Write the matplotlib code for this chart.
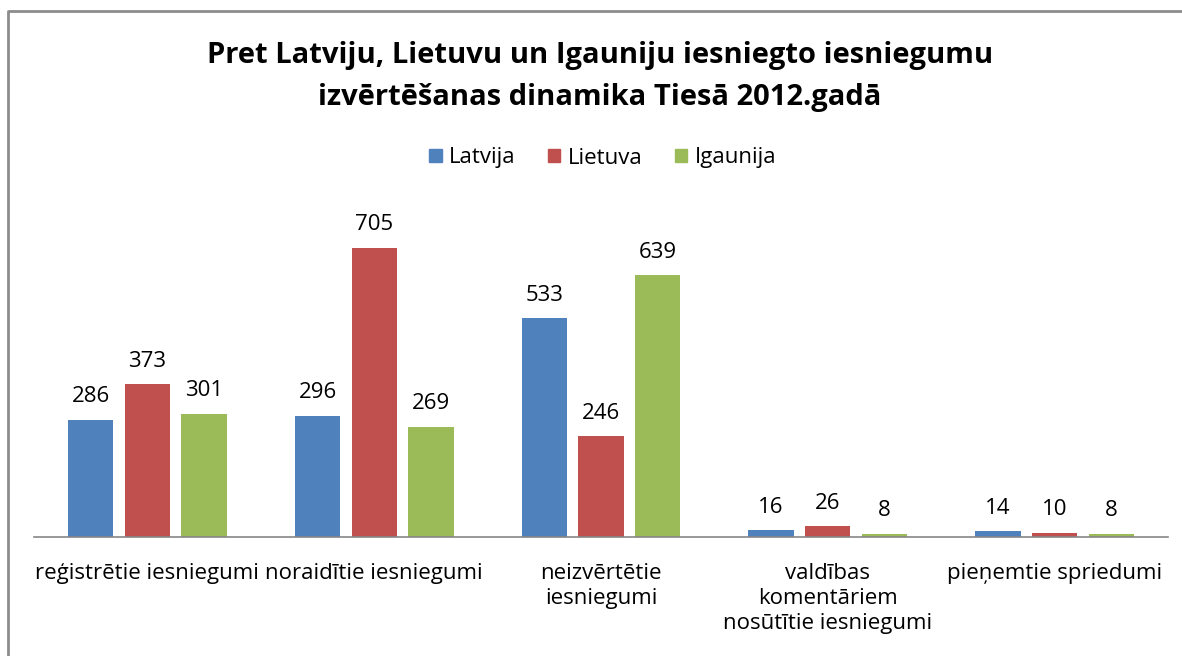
import matplotlib
matplotlib.use("Agg")
import matplotlib.pyplot as plt
from matplotlib.lines import Line2D
import numpy as np

categories = ["reģistrētie iesniegumi", "noraidītie iesniegumi", "neizvērtētie\niesniegumi",
              "valdības\nkomentāriem\nnosūtītie iesniegumi", "pieņemtie spriedumi"]
series_names = ["Latvija", "Lietuva", "Igaunija"]
latvija = [286, 296, 533, 16, 14]
lietuva = [373, 705, 246, 26, 10]
igaunija = [301, 269, 639, 8, 8]
colors = ["#4F81BD", "#C0504D", "#9BBB59"]

plt.rcParams['font.family'] = ['Open Sans', 'DejaVu Sans']

W, H = 1182, 656
fig = plt.figure(figsize=(W / 100, H / 100), dpi=100)
ax = fig.add_axes([34 / W, (H - 537) / H, 1134 / W, 328 / H])

x = np.arange(len(categories))
width = 0.2
step = 0.25
for i, (vals, name, c) in enumerate(zip([latvija, lietuva, igaunija], series_names, colors)):
    bars = ax.bar(x + (i - 1) * step, vals, width, color=c, label=name, zorder=2)
    ax.bar_label(bars, padding=9, fontsize=16, color="#000000")

ax.set_xlim(-0.5, len(categories) - 0.5)
ax.set_ylim(0, 800)
ax.set_yticks([])
ax.set_xticks(x)
ax.set_xticklabels(categories, fontsize=16, linespacing=1.25)
ax.tick_params(axis='x', length=0, pad=19)
for s in ["top", "right", "left"]:
    ax.spines[s].set_visible(False)
ax.spines["bottom"].set_color("#868686")
ax.spines["bottom"].set_linewidth(1.2)

fig.text(600 / W, 1 - 55 / H, "Pret Latviju, Lietuvu un Igauniju iesniegto iesniegumu", ha="center",
         va="center", fontsize=21, fontweight="bold")
fig.text(600 / W, 1 - 97 / H, "izvērtēšanas dinamika Tiesā 2012.gadā", ha="center", va="center",
         fontsize=21, fontweight="bold")

handles = [plt.Rectangle((0, 0), 1, 1, color=c) for c in colors]
fig.legend(handles, series_names, loc="center", bbox_to_anchor=(603 / W, 1 - 158 / H), ncol=3,
           frameon=False, fontsize=16, handlelength=0.55, handleheight=0.55, handletextpad=0.35,
           columnspacing=1.45)

fig.add_artist(Line2D([7.5 / W, 7.5 / W, 1.0], [0, 1 - 11 / H, 1 - 11 / H], color="#8C8C8C",
                      linewidth=2, transform=fig.transFigure))

fig.savefig("out.png", dpi=100)
